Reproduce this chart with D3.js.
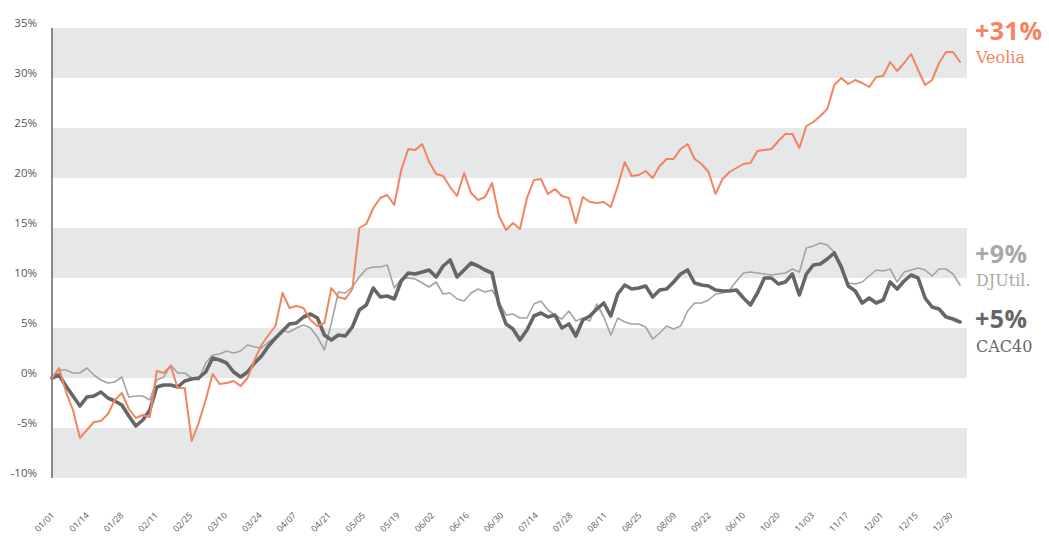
<!DOCTYPE html>
<html>
<head>
<meta charset="utf-8">
<script src="https://cdn.jsdelivr.net/npm/d3@7"></script>
<style>
html,body{margin:0;padding:0;background:#fff;}
svg{display:block;}
</style>
</head>
<body>
<svg id="chart" width="1049" height="536"></svg>
<script>
// ---- data (percent change since 01/01, sampled every two trading days) ----
const tickLabels = ["01/01","01/14","01/28","02/11","02/25","03/10","03/24","04/07","04/21","05/05","05/19","06/02","06/16","06/30","07/14","07/28","08/11","08/25","08/09","09/22","06/10","10/20","11/03","11/17","12/01","12/15","12/30"];
const yTicks = [35,30,25,20,15,10,5,0,-5,-10];

const veolia = [0,1.0,-1.4,-3.2,-6.0,-5.2,-4.4,-4.3,-3.6,-2.2,-1.5,-3.1,-4.0,-3.7,-3.9,0.7,0.5,1.2,-1.0,-1.0,
-6.3,-4.5,-2.2,0.4,-0.6,-0.5,-0.3,-0.8,0,1.8,3.3,4.3,5.2,8.5,7.0,7.2,7.0,5.8,5.2,5.5,
9.0,8.1,7.9,8.9,15.0,15.4,17.0,18.0,18.3,17.3,20.8,22.9,22.8,23.4,21.6,20.4,20.2,19.1,18.2,20.5,
18.5,17.8,18.1,19.5,16.2,14.8,15.5,14.9,18.0,19.8,19.9,18.4,18.9,18.2,18.0,15.5,18.1,17.6,17.5,17.6,
17.1,19.2,21.6,20.2,20.3,20.7,20.0,21.2,21.9,21.9,22.9,23.4,21.9,21.4,20.6,18.4,19.9,20.6,21.0,21.4,
21.5,22.7,22.8,22.9,23.7,24.4,24.4,23.0,25.2,25.6,26.2,26.9,29.3,30.0,29.4,29.8,29.5,29.1,30.1,30.2,
31.6,30.7,31.5,32.4,30.8,29.3,29.8,31.5,32.6,32.6,31.6];

const cac40 = [0,0.3,-0.8,-1.8,-2.8,-1.9,-1.8,-1.4,-2.0,-2.3,-2.7,-3.8,-4.8,-4.2,-3.2,-0.9,-0.7,-0.7,-0.9,-0.3,
-0.1,0,0.6,2.0,1.8,1.5,0.6,0.1,0.6,1.5,2.2,3.2,4.0,4.7,5.4,5.5,6.1,6.4,6.0,4.3,
3.8,4.3,4.2,5.1,6.8,7.3,9.0,8.1,8.2,7.9,9.7,10.5,10.4,10.6,10.8,10.1,11.2,11.8,10.1,10.8,
11.5,11.2,10.8,10.5,7.3,5.4,4.9,3.8,4.8,6.2,6.5,6.1,6.3,5.0,5.4,4.2,5.8,6.2,6.9,7.5,
6.2,8.4,9.3,8.9,9.0,9.2,8.1,8.8,8.9,9.6,10.4,10.8,9.5,9.3,9.2,8.8,8.7,8.7,8.8,8.0,
7.3,8.5,10.0,10.0,9.4,9.6,10.4,8.3,10.4,11.3,11.4,11.9,12.5,11.1,9.2,8.7,7.5,8.0,7.5,7.8,
9.6,8.9,9.7,10.3,10.0,8.0,7.1,6.9,6.1,5.9,5.6];

const djutil = [0,0.8,0.8,0.5,0.5,1.0,0.3,-0.2,-0.5,-0.4,0.1,-1.9,-1.8,-1.8,-2.2,-0.2,0.1,1.3,0.5,0.5,
0.0,-0.2,1.5,2.3,2.4,2.7,2.5,2.7,3.3,3.1,3.0,3.6,4.0,4.7,4.6,5.0,5.3,5.0,4.1,2.8,
5.5,8.6,8.5,9.1,10.1,10.9,11.1,11.1,11.3,9.0,9.9,10.0,9.9,9.5,9.1,9.6,8.4,8.5,7.9,7.7,
8.5,8.9,8.6,8.8,7.6,6.3,6.4,6.0,6.0,7.4,7.7,6.8,6.3,5.9,6.7,5.7,6.0,5.7,7.4,6.1,
4.3,6.0,5.6,5.4,5.4,5.1,3.9,4.5,5.2,4.9,5.2,6.7,7.5,7.5,7.8,8.4,8.5,8.8,9.7,10.5,
10.6,10.5,10.4,10.3,10.4,10.5,10.9,10.6,13.0,13.2,13.5,13.3,12.6,11.3,9.5,9.4,9.6,10.2,10.8,10.7,
10.9,9.6,10.6,10.8,11.0,10.8,10.2,10.9,10.9,10.4,9.3];

const seriesNames = ["DJUtil.","CAC40","Veolia"];
const seriesValues = [djutil, cac40, veolia];
const seriesColors = ["#a3a3a3","#666666","#f4845f"];
const labelColors = ["#a8a8a8","#666666","#f4845f"];
const seriesWidths = [1.6,3.6,2.0];
const endLabels = ["+9%","+5%","+31%"];

// ---- chart ----
const svg = d3.select("#chart");
const n = veolia.length;
const x = d3.scaleLinear().domain([0, n - 1]).range([52, 960]);
const y = d3.scaleLinear().domain([-10, 35]).range([478, 28]);
const bandRight = 967;

// alternating bands
const bandStarts = [35,25,15,5,-5];
svg.append("g").selectAll("rect").data(bandStarts).join("rect")
  .attr("x", x(0)).attr("width", bandRight - x(0))
  .attr("y", d => y(d)).attr("height", d => y(d - 5) - y(d))
  .attr("fill", "#e6e7e8");

// y labels
svg.append("g").selectAll("text").data(yTicks).join("text")
  .attr("x", 37).attr("y", d => y(d) - 1)
  .attr("text-anchor", "end")
  .attr("font-family", "'Open Sans', sans-serif")
  .attr("font-size", 11.5)
  .attr("fill", "#555")
  .text(d => d + "%");

// y axis line
svg.append("line").attr("x1", x(0)).attr("x2", x(0)).attr("y1", y(35)).attr("y2", y(-10))
  .attr("stroke", "#6e6e6e").attr("stroke-width", 1.6);

// x labels
const xl = d3.scalePoint().domain(d3.range(tickLabels.length)).range([55, 953]);
svg.append("g").selectAll("text").data(tickLabels).join("text")
  .attr("transform", (d, i) => `translate(${xl(i)},${516}) rotate(-45)`)
  .attr("text-anchor", "end")
  .attr("font-family", "'Open Sans', sans-serif")
  .attr("font-size", 8.8)
  .attr("fill", "#5a5a5a")
  .text(d => d);

// lines
const line = d3.line().x((d, i) => x(i)).y(d => y(d));
seriesValues.forEach((vals, k) => {
  svg.append("path").datum(vals)
    .attr("d", line)
    .attr("fill", "none")
    .attr("stroke", seriesColors[k])
    .attr("stroke-width", seriesWidths[k])
    .attr("stroke-linejoin", "round")
    .attr("stroke-linecap", "round");
});

// end labels
const bigY = [263, 328, 40];
const smallY = [286, 352, 63];
seriesNames.forEach((name, k) => {
  svg.append("text").attr("x", 975).attr("y", bigY[k])
    .attr("font-family", "'Open Sans', sans-serif").attr("font-weight", 700)
    .attr("font-size", 25).attr("letter-spacing", 0.5)
    .attr("fill", labelColors[k])
    .text(endLabels[k]);
  svg.append("text").attr("x", 976).attr("y", smallY[k])
    .attr("font-family", "'DejaVu Serif', serif")
    .attr("font-size", 16)
    .attr("fill", labelColors[k])
    .text(name);
});
</script>
</body>
</html>
